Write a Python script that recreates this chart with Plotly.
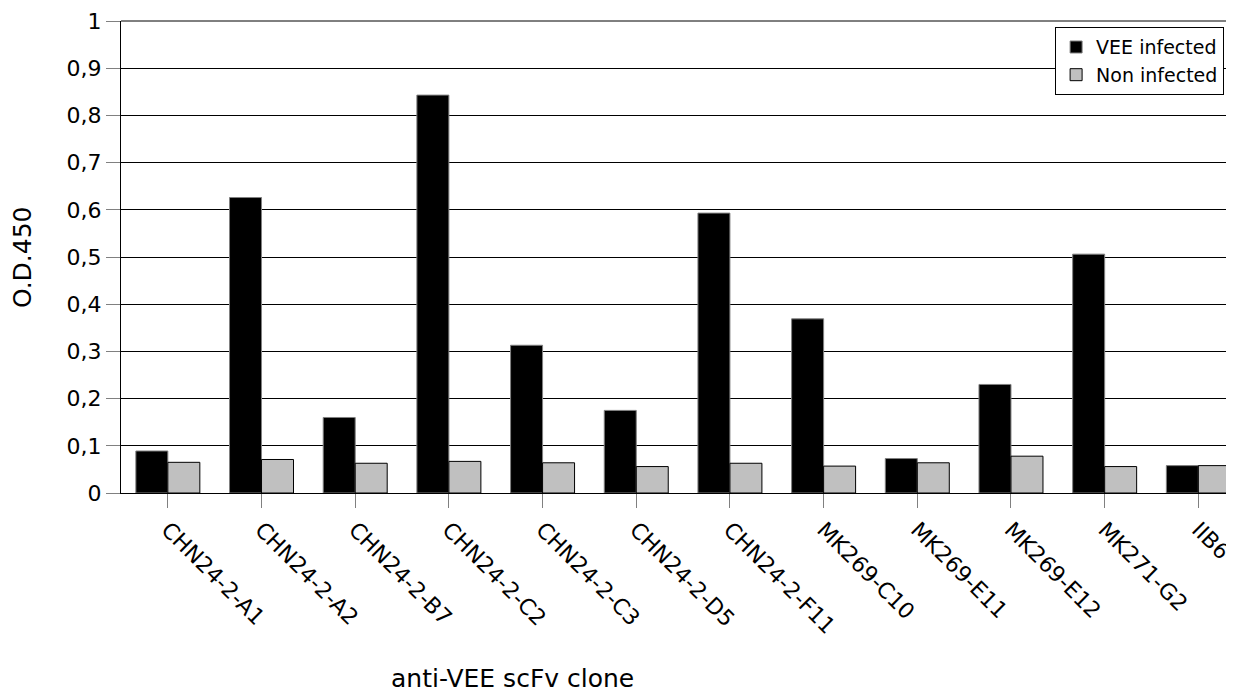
import plotly.graph_objects as go

clones = ["CHN24-2-A1", "CHN24-2-A2", "CHN24-2-B7", "CHN24-2-C2", "CHN24-2-C3",
          "CHN24-2-D5", "CHN24-2-F11", "MK269-C10", "MK269-E11", "MK269-E12",
          "MK271-G2", "IIB6"]
vee_infected = [0.089, 0.626, 0.160, 0.843, 0.313, 0.175, 0.593, 0.369, 0.073, 0.230, 0.506, 0.058]
non_infected = [0.065, 0.071, 0.063, 0.067, 0.064, 0.056, 0.063, 0.057, 0.064, 0.078, 0.056, 0.058]
y_ticks = [0, 0.1, 0.2, 0.3, 0.4, 0.5, 0.6, 0.7, 0.8, 0.9, 1]

FONT = "DejaVu Sans"

fig = go.Figure()
fig.add_trace(go.Bar(x=clones, y=vee_infected, name="VEE infected",
                     marker=dict(color="#000000", line=dict(color="#808080", width=1))))
fig.add_trace(go.Bar(x=clones, y=non_infected, name="Non infected",
                     marker=dict(color="#c0c0c0", line=dict(color="#000000", width=1))))

fig.update_layout(
    width=1226, height=690,
    margin=dict(l=113, r=1, t=13, b=205, autoexpand=False),
    paper_bgcolor="white", plot_bgcolor="white",
    barmode="group", bargap=0.317, bargroupgap=0,
    separators=", ",
    font=dict(family=FONT, color="#000000", size=22),
    showlegend=True,
    legend=dict(x=0.992, y=0.987, xanchor="right", yanchor="top",
                bordercolor="#000000", borderwidth=1, bgcolor="white",
                font=dict(family=FONT, size=19), tracegroupgap=0,
                itemwidth=30),
    xaxis=dict(range=[-0.5, 11.37], tickangle=45, ticks="outside", ticklen=14,
               tickcolor="#808080", showline=True, linecolor="#000000", linewidth=1,
               tickfont=dict(family=FONT, size=22), showgrid=False, automargin=False),
    yaxis=dict(range=[0, 1], tickvals=y_ticks, ticks="outside", ticklen=14,
               tickcolor="#808080", showline=True, linecolor="#000000", linewidth=1,
               showgrid=True, gridcolor="#000000", gridwidth=1,
               tickfont=dict(family=FONT, size=22), zeroline=False, automargin=False),
    shapes=[dict(type="line", xref="paper", yref="paper", x0=0, x1=1, y0=1, y1=1,
                 line=dict(color="#000000", width=1))],
    annotations=[
        dict(text="anti-VEE scFv clone", xref="paper", yref="paper", x=0.3525, y=-0.392,
             xanchor="center", yanchor="middle", showarrow=False,
             font=dict(family=FONT, size=25)),
        dict(text="O.D.450", xref="paper", yref="paper", x=-0.089, y=0.5,
             xanchor="center", yanchor="middle", showarrow=False, textangle=-90,
             font=dict(family=FONT, size=25)),
    ],
)

fig.write_html("out.html")
